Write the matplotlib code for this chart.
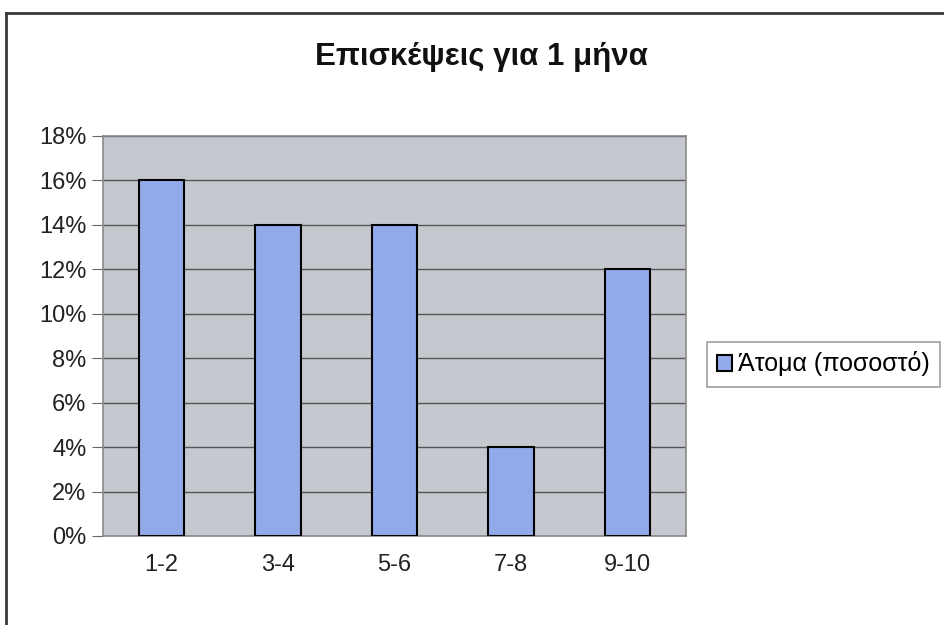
import matplotlib
matplotlib.use("Agg")
import matplotlib.pyplot as plt
from matplotlib.lines import Line2D
from matplotlib.ticker import FuncFormatter

plt.rcParams['font.family'] = ['Liberation Sans', 'DejaVu Sans']

categories = ["1-2", "3-4", "5-6", "7-8", "9-10"]
values = [16, 14, 14, 4, 12]
yticks = [0, 2, 4, 6, 8, 10, 12, 14, 16, 18]
title = "Επισκέψεις για 1 μήνα"
series_name = "Άτομα (ποσοστό)"

bar_color = "#93AAEA"
plot_bg = "#C6C8D0"

fig = plt.figure(figsize=(9.44, 6.25), dpi=100)
fig.patch.set_facecolor("white")

# scanned chart frame (left and top edge)
fig.add_artist(Line2D([6/944, 6/944], [0, 1 - 12.5/625], color="#3a3a3a", lw=2))
fig.add_artist(Line2D([6/944, 1], [1 - 12.5/625, 1 - 12.5/625], color="#3a3a3a", lw=2))

ax = fig.add_axes([103/944, 89/625, 583/944, 400/625])
ax.set_facecolor(plot_bg)

x = range(len(categories))
bars = ax.bar(x, values, width=0.39, color=bar_color, edgecolor="black",
              linewidth=1.5, label=series_name, zorder=3)

ax.set_xlim(-0.5, len(categories) - 0.5)
ax.set_ylim(0, 18)
ax.set_yticks(yticks)
ax.yaxis.set_major_formatter(FuncFormatter(lambda v, p: "%d%%" % v))
ax.set_xticks(list(x))
ax.set_xticklabels(categories)
ax.grid(axis="y", color="#555555", lw=1, zorder=1)

for s in ["top", "right", "left", "bottom"]:
    ax.spines[s].set_color("#8a8a8a")
    ax.spines[s].set_linewidth(1.2)

ax.tick_params(axis="y", labelsize=17, length=8, color="#666666", pad=4, labelcolor="#222222")
ax.tick_params(axis="x", labelsize=17, length=0, pad=13, labelcolor="#222222")

fig.text(481/944, 1 - 57/625, title, ha="center", va="center",
         fontsize=22.5, fontweight="bold", color="#111111")

leg = fig.legend(handles=[bars], labels=[series_name], loc="center left",
                 bbox_to_anchor=(707/944, 1 - 364/625), fontsize=18,
                 frameon=True, fancybox=False, edgecolor="#888888",
                 handlelength=0.6, handleheight=0.6, handletextpad=0.25,
                 borderpad=0.4, borderaxespad=0)
leg.get_frame().set_linewidth(1.2)

fig.savefig("out.png", dpi=100)
